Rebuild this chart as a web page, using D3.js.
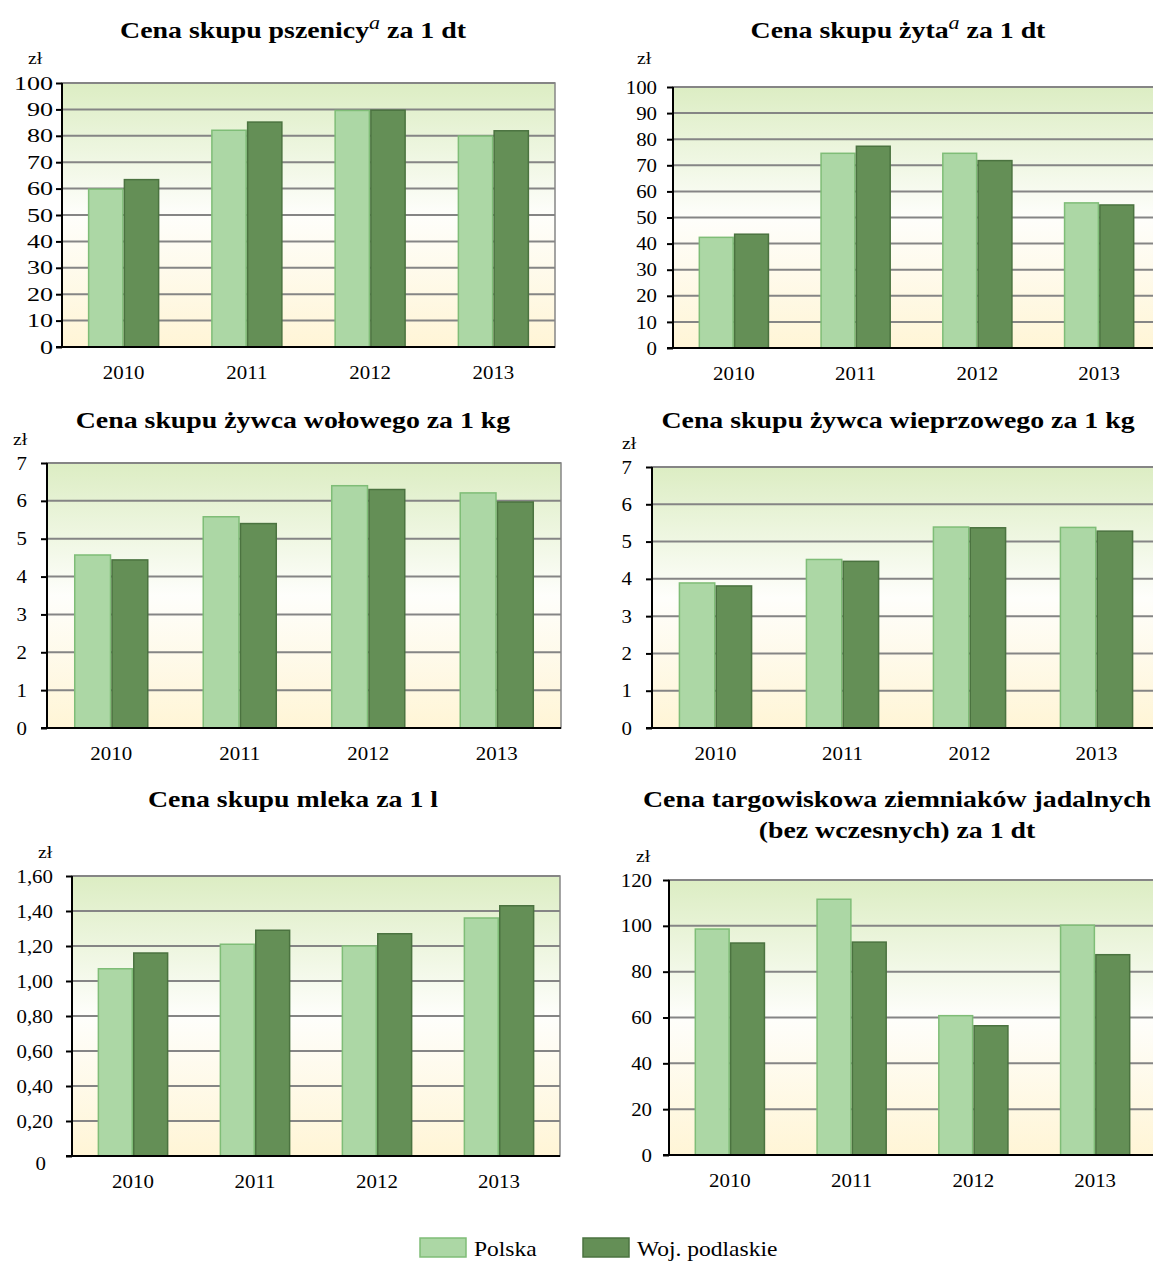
<!DOCTYPE html>
<html>
<head>
<meta charset="utf-8">
<script src="https://cdn.jsdelivr.net/npm/d3@7"></script>
<style>
  body { margin: 0; background: #fff; }
  text { font-family: "Liberation Serif", "Times New Roman", serif; fill: #000; }
</style>
</head>
<body>
<div></div>
<script>
// chart data
var years = ["2010", "2011", "2012", "2013"];
var seriesNames = ["Polska", "Woj. podlaskie"];

var wheatPolska = [59.8, 82.1, 89.6, 79.9];
var wheatPodlaskie = [63.4, 85.2, 89.7, 81.9];
var ryePolska = [42.4, 74.6, 74.6, 55.6];
var ryePodlaskie = [43.6, 77.3, 71.8, 54.8];
var beefPolska = [4.57, 5.58, 6.40, 6.21];
var beefPodlaskie = [4.44, 5.40, 6.30, 5.97];
var porkPolska = [3.89, 4.52, 5.39, 5.38];
var porkPodlaskie = [3.81, 4.47, 5.37, 5.28];
var milkPolska = [1.07, 1.21, 1.20, 1.36];
var milkPodlaskie = [1.16, 1.29, 1.27, 1.43];
var potatoPolska = [98.6, 111.6, 60.8, 100.3];
var potatoPodlaskie = [92.5, 92.9, 56.4, 87.4];

var wheatTicks = [0, 10, 20, 30, 40, 50, 60, 70, 80, 90, 100];
var livestockTicks = [0, 1, 2, 3, 4, 5, 6, 7];
var milkTicks = [0, 0.2, 0.4, 0.6, 0.8, 1.0, 1.2, 1.4, 1.6];
var potatoTicks = [0, 20, 40, 60, 80, 100, 120];

var colors = { fill: ["#acd7a5", "#648f56"], stroke: ["#7fbd77", "#4b7340"] };
var S = 1.16; // the source picture is a bit wider than tall, so is its text

var svg = d3.select("div").append("svg")
    .attr("width", 1153)
    .attr("height", 1261);

// background gradient of plot areas
var grad = svg.append("defs").append("linearGradient")
    .attr("id", "bg").attr("x1", 0).attr("y1", 0).attr("x2", 0).attr("y2", 1);
grad.append("stop").attr("offset", "0%").attr("stop-color", "#dcedc3");
grad.append("stop").attr("offset", "50%").attr("stop-color", "#fefefb");
grad.append("stop").attr("offset", "100%").attr("stop-color", "#fff5d6");

function commaFmt(d) {
  return d === 0 ? "0" : d3.format(".2f")(d).replace(".", ",");
}

function stext(parent, x, y, s, size) {
  return parent.append("text")
      .attr("transform", "translate(" + x + "," + y + ") scale(" + s + ",1)")
      .attr("font-size", size);
}

function drawChart(c) {
  var g = svg.append("g").attr("transform", "translate(" + c.left + "," + c.top + ")");

  var x = d3.scaleBand().domain(years).range([0, c.width])
      .paddingInner(0.42).paddingOuter(0.21);
  var xs = d3.scaleBand().domain(seriesNames).range([0, x.bandwidth()]);
  var y = d3.scaleLinear().domain([0, c.ticks[c.ticks.length - 1]]).range([c.height, 0]);

  g.append("rect")
      .attr("width", c.width).attr("height", c.height)
      .attr("fill", "url(#bg)")
      .attr("stroke", "#868686").attr("stroke-width", 1.5);

  // gridlines
  g.selectAll(".grid").data(c.ticks.slice(1)).enter().append("line")
      .attr("x1", 0).attr("x2", c.width)
      .attr("y1", function(d) { return y(d); })
      .attr("y2", function(d) { return y(d); })
      .attr("stroke", "#858585").attr("stroke-width", 2);

  var data = [];
  years.forEach(function(yr, i) {
    data.push({ year: yr, s: 0, v: c.polska[i] });
    data.push({ year: yr, s: 1, v: c.podlaskie[i] });
  });

  g.selectAll(".bar").data(data).enter().append("rect")
      .attr("x", function(d) { return x(d.year) + xs(seriesNames[d.s]) + 0.75; })
      .attr("y", function(d) { return y(d.v); })
      .attr("width", xs.bandwidth() - 1.5)
      .attr("height", function(d) { return c.height - y(d.v); })
      .attr("fill", function(d) { return colors.fill[d.s]; })
      .attr("stroke", function(d) { return colors.stroke[d.s]; })
      .attr("stroke-width", 1.5);

  // y axis
  var ts = c.tickScale || S;
  var pad = c.pad;
  var ya = g.append("g")
      .call(d3.axisLeft(y).tickValues(c.ticks).tickSize(6)
        .tickFormat(c.fmt || function(d) { return d; }));
  ya.select(".domain").remove();
  ya.attr("font-family", null);
  ya.selectAll(".tick line").attr("stroke", "#000").attr("stroke-width", 2);
  ya.selectAll("text")
      .attr("x", function(d) { return -(6 + pad + (d === 0 && c.zeroDx ? c.zeroDx : 0)) / ts; })
      .attr("dy", function(d) { return d === 0 && c.zeroDy ? c.zeroDy : "0.34em"; })
      .attr("transform", "scale(" + ts + ",1)")
      .attr("font-size", 18);
  g.append("line").attr("x1", 0).attr("x2", 0).attr("y1", 0).attr("y2", c.height)
      .attr("stroke", "#000").attr("stroke-width", 2);
  g.append("line").attr("x1", -6).attr("x2", c.width).attr("y1", c.height).attr("y2", c.height)
      .attr("stroke", "#000").attr("stroke-width", 2);

  // x labels
  var xa = g.append("g").attr("transform", "translate(0," + c.height + ")")
      .call(d3.axisBottom(x).tickSize(0).tickPadding(19));
  xa.select(".domain").remove();
  xa.attr("font-family", null);
  xa.selectAll("text").attr("font-size", 19).attr("transform", "scale(1.1,1)");

  // unit
  stext(svg, c.zl[0], c.zl[1], S, 17).text("zł");

  // title
  c.title.forEach(function(line, i) {
    var t = stext(svg, c.titleX, c.titleY + i * 31, S, 24)
        .attr("text-anchor", "middle")
        .attr("font-weight", "bold");
    var shift = 0;
    line.forEach(function(part) {
      if (part.sup) {
        t.append("tspan").attr("font-style", "italic").attr("font-weight", "normal")
            .attr("font-size", 19).attr("dy", -9).text(part.text);
        shift = 9;
      } else {
        t.append("tspan").attr("dy", shift).text(part.text);
        shift = 0;
      }
    });
  });
}

drawChart({ left: 62, top: 83, width: 493, height: 264, ticks: wheatTicks, pad: 3, tickScale: 1.45,
  polska: wheatPolska, podlaskie: wheatPodlaskie, zl: [28, 64], titleX: 293, titleY: 38,
  title: [[{ text: "Cena skupu pszenicy" }, { text: "a", sup: true }, { text: " za 1 dt" }]] });

drawChart({ left: 673, top: 87, width: 487, height: 261, ticks: wheatTicks, pad: 10,
  polska: ryePolska, podlaskie: ryePodlaskie, zl: [637, 64], titleX: 898, titleY: 38,
  title: [[{ text: "Cena skupu żyta" }, { text: "a", sup: true }, { text: " za 1 dt" }]] });

drawChart({ left: 47, top: 463, width: 514, height: 265, ticks: livestockTicks, pad: 14,
  polska: beefPolska, podlaskie: beefPodlaskie, zl: [13, 445], titleX: 293, titleY: 428,
  title: [[{ text: "Cena skupu żywca wołowego za 1 kg" }]] });

drawChart({ left: 652, top: 467, width: 508, height: 261, ticks: livestockTicks, pad: 14,
  polska: porkPolska, podlaskie: porkPodlaskie, zl: [622, 449], titleX: 898, titleY: 428,
  title: [[{ text: "Cena skupu żywca wieprzowego za 1 kg" }]] });

drawChart({ left: 72, top: 876, width: 488, height: 280, ticks: milkTicks, fmt: commaFmt, pad: 13,
  zeroDy: "0.75em", zeroDx: 7,
  polska: milkPolska, podlaskie: milkPodlaskie, zl: [38, 858], titleX: 293, titleY: 807,
  title: [[{ text: "Cena skupu mleka za 1 l" }]] });

drawChart({ left: 669, top: 880, width: 487, height: 275, ticks: potatoTicks, pad: 11,
  polska: potatoPolska, podlaskie: potatoPodlaskie, zl: [636, 862], titleX: 897, titleY: 807,
  title: [[{ text: "Cena targowiskowa ziemniaków jadalnych" }], [{ text: "(bez wczesnych) za 1 dt" }]] });

// legend
var legend = svg.append("g").attr("transform", "translate(420,1238)");
seriesNames.forEach(function(name, i) {
  var lx = i * 163;
  legend.append("rect").attr("x", lx).attr("y", 0).attr("width", 46).attr("height", 19)
      .attr("fill", colors.fill[i]).attr("stroke", colors.stroke[i]).attr("stroke-width", 1.5);
  stext(legend, lx + 54, 18, 1.12, 21).text(name);
});
</script>
</body>
</html>
